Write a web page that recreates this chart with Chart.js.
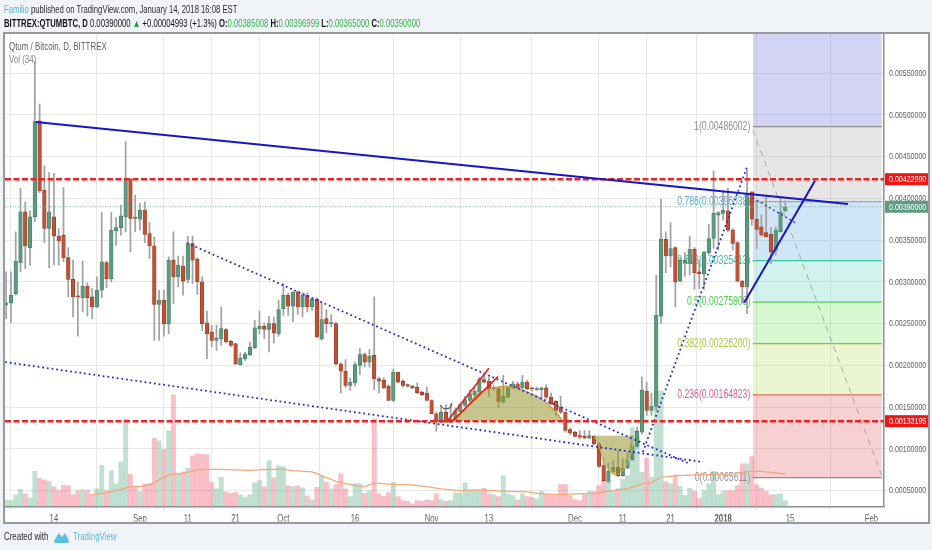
<!DOCTYPE html>
<html><head><meta charset="utf-8">
<style>
html,body{margin:0;padding:0;width:932px;height:550px;overflow:hidden;background:#f0f3f8;}
#frame{position:absolute;left:3px;top:32px;width:923px;height:488px;background:#fff;border:2px solid #9a9a9a;}
canvas{position:absolute;left:0;top:0;}
.t{position:absolute;white-space:nowrap;font-family:"Liberation Sans",sans-serif;font-size:10.7px;color:#2c2c2c;transform:scaleX(.72);transform-origin:left center;}
.g{color:#35b04a}
</style></head><body>
<div id="frame"></div>
<canvas id="c" width="932" height="550"></canvas>
<div class="t" style="left:4px;top:3px"><span style="color:#56b4e0">Familio</span> published on TradingView.com, January 14, 2018 16:08 EST</div>
<div class="t" style="left:4px;top:17px;color:#111"><b>BITTREX:QTUMBTC, D</b> 0.00390000 <span style="color:#2a9a3a">▲</span> +0.00004993 (+1.3%) <b>O:</b><span class="g">0.00385008</span> <b>H:</b><span class="g">0.00396999</span> <b>L:</b><span class="g">0.00365000</span> <b>C:</b><span class="g">0.00390000</span></div>
<div class="t" style="left:9px;top:40px;color:#5e5e5e;font-size:11px">Qtum / Bitcoin, D, BITTREX</div>
<div class="t" style="left:9px;top:53px;color:#8a8a8a;font-size:11px">Vol (34)</div>
<div class="t" style="left:4px;top:530px;color:#2c2c2c;font-size:11px">Created with</div>
<svg style="position:absolute;left:53px;top:530px" width="17" height="14" viewBox="0 0 17 14"><path d="M1 11 L6 3 L9 7 L12 3 L16 11 Q16 13 13 13 L4 13 Q1 13 1 11Z" fill="#5bbfe0"/></svg>
<div class="t" style="left:73px;top:530px;color:#5cb8de;font-size:11px">TradingView</div>
<script src="https://cdn.jsdelivr.net/npm/chart.js@4"></script>
<script>
// Prices are in units of 0.00001 BTC; days are counted from 1 Sep 2017.
const firstDay = -28;
const open  = [272,275,286,323,384,341,378,493,410,364,
378,355,356,329,303,282,281,295,282,270,
290,323,304,361,365,378,423,376,375,386,
358,343,273,278,250,326,306,319,303,346,
327,300,251,240,230,232,243,229,226,201,
208,213,221,244,247,243,250,238,268,284,
271,288,270,284,270,279,232,256,250,250,
202,193,176,179,200,213,204,212,184,182,
175,158,192,181,177,175,174,168,167,158,
142,132,144,132,135,145,152,158,164,168,
183,181,172,172,156,162,173,178,173,180,
172,171,171,173,162,157,150,144,123,120,
116,115,113,115,106,80,61,73,78,68,
77,87,103,120,169,146,151,259,351,331,
341,301,323,322,339,312,310,335,352,380,
382,385,362,347,301,294,408,375,366,359,
357,338,360,385];
const high  = [312,312,360,412,396,385,564,513,439,431,
430,364,413,341,326,300,325,299,292,306,
383,325,383,377,392,468,423,404,394,396,
371,354,290,290,330,360,331,331,355,355,
329,306,265,248,248,270,244,230,226,215,
216,228,254,265,251,259,258,278,298,287,
288,289,287,287,281,281,275,267,261,252,
203,207,185,204,220,215,219,282,186,185,
177,196,192,183,178,176,179,169,174,159,
144,152,153,154,149,155,163,171,173,186,
190,186,176,174,188,174,181,180,188,182,
174,174,174,177,167,158,163,144,125,121,
122,122,122,116,108,89,83,86,98,88,
96,107,126,186,180,167,308,399,360,371,
342,329,335,355,341,326,336,369,433,384,
408,412,364,348,302,434,408,398,380,402,
365,366,401,397];
const low   = [256,251,284,312,316,320,372,407,347,317,
320,320,324,282,258,235,264,259,256,269,
281,293,300,344,356,360,336,360,362,347,
328,230,230,235,238,274,294,284,299,298,
285,242,208,222,218,224,227,222,201,200,
206,212,220,238,232,216,227,235,260,260,
252,261,258,264,266,233,230,239,246,200,
167,174,170,175,189,198,198,171,167,172,
158,157,179,174,174,172,166,164,158,142,
121,131,131,131,134,144,151,157,163,166,
179,163,170,150,155,161,172,172,172,171,
169,170,160,160,153,140,142,120,117,114,
112,112,112,105,78,61,60,72,67,67,
76,86,102,118,140,140,146,250,311,318,
270,300,307,308,291,292,291,332,340,338,
374,360,338,300,275,262,368,340,355,354,
322,332,360,384];
const close = [275,284,325,384,343,378,492,409,364,384,
355,349,329,303,282,281,295,281,270,290,
324,304,362,365,379,423,376,375,386,357,
343,273,278,250,326,306,320,301,346,326,
300,250,238,230,233,244,228,224,202,209,
214,222,245,247,243,250,239,267,284,271,
288,270,284,270,279,234,255,250,251,202,
193,176,180,201,213,204,211,184,181,173,
158,192,180,176,175,173,167,165,158,142,
132,144,132,136,146,153,159,166,169,184,
180,172,174,157,163,173,178,173,180,172,
171,172,173,162,154,146,144,122,119,115,
114,113,116,106,79,62,73,78,68,77,
87,104,121,170,146,151,260,351,331,340,
300,326,326,339,311,310,336,352,382,383,
386,362,346,301,294,405,375,363,356,354,
336,362,384,390];
const volume = [67,60,117,173,127,87,353,283,267,253,200,157,213,207,117,157,167,163,123,177,413,160,360,227,447,880,323,200,150,227,227,683,657,573,757,1117,333,347,383,507,527,523,520,240,177,293,147,133,143,117,90,120,237,260,200,460,287,407,400,207,200,207,187,107,67,193,303,243,177,220,327,177,100,233,227,133,160,877,127,103,137,243,100,60,53,27,60,53,67,60,127,67,53,60,137,133,237,160,160,160,183,127,117,100,310,127,110,67,127,100,93,77,153,127,110,110,220,220,110,70,60,120,153,153,210,267,253,153,177,273,307,787,707,343,483,293,1157,1157,250,227,317,203,110,183,153,80,160,227,353,120,153,160,160,210,427,427,500,220,183,153,117,120,127,60];
const volMaDays = [-10,-8,-6,-4,-2,0,2,4,6,9,12,14,17,20,23,27,30,32,36,38,41,45,47,49,53,56,60,63,67,70,74,77,81,84,88,91,95,98,100,102,105,107,109,112,116,120,124,127,130,132,135];
const volMa = [117,133,150,173,200,200,217,267,317,333,367,373,373,367,363,373,373,360,347,310,253,210,200,237,220,220,200,177,160,167,160,153,147,127,120,127,133,153,170,177,227,243,293,307,317,320,327,353,353,343,327];
const tickDays = [-18,0,10,20,30,45,61,73,91,101,111,122,136,153];
const tickLabels = ["14","Sep","11","21","Oct","16","Nov","13","Dec","11","21","2018","15","Feb"];
const priceTicks = [50,100,150,200,250,300,350,400,450,500,550];
const fibStart = 128.2, fibEnd = 155.2, axisTop = 596.9, axisBottom = 30.9;
const fibRatios = ["1","0.786","0.618","0.5","0.382","0.236","0"];
const fibLevels = [486.002,396.038,325.413,275.806,226.200,164.823,65.611];
const fibLineColors = ["#8c8c8c","#7db0d0","#35c49c","#5cc85c","#8fbf3c","#e07050","#8c8c8c"];
const fibTextColors = ["#8e8e8e","#62a8d0","#35c49c","#4fcc4f","#b0c644","#d8648a","#969696"];
const fibFills = ["rgba(120,120,225,.33)","rgba(150,150,150,.24)","rgba(110,175,225,.32)","rgba(90,210,190,.28)","rgba(110,225,90,.28)","rgba(180,220,90,.28)","rgba(225,90,90,.28)"];
const resistance = 422.990, support = 133.195, lastPrice = 390;
const trendMain = [[-21.8,491.5],[148.1,393.3]];
const trendUp = [[126.4,275],[141.2,421.2]];
const dotUpper = [[9.8,346.6],[114.6,83.1]];
const dotLower = [[-28.24,204],[117.8,84.3]];
const dotSteep = [[105.2,96.3],[127,437.6]];
const dotShort = [[128.2,400.5],[137.2,370.5]];
const fibDiagonal = [[128.2,482],[155.2,67.9]];
const redA = [[64.2,132.6],[73,196.5]];
const redB = [[65.2,132.6],[74.9,186.5]];
const squiggle = [[62.8,152.6],[63.6,147.8],[64.9,149],[65.3,155]];
const domeTop = [[65.5,132.6],[67.6,144.6],[70.4,164.5],[73.8,172.9],[77.4,174.5],[80.9,168.5],[84.3,158.6],[87.2,143],[88.5,132.6]];
const domeBottom = [[95,115.8],[96.1,102.6],[96.9,86.7],[98.3,72.7],[99.7,68.7],[101.1,74.7],[102.2,86.7],[102.9,98.7],[103.3,115.8]];

const pts = a => a.map(p => ({x:p[0], y:p[1]}));
const sans = '"Liberation Sans",sans-serif';
const squeeze = .72;
const days = open.map((_, i) => firstDay + i);
const up = i => close[i] >= open[i];
const line = (data, color, width, order, extra) => Object.assign({type:'line', data:pts(data), borderColor:color, borderWidth:width, pointRadius:0, order, yAxisID:'y', tension:0, fill:false}, extra||{});

const datasets = [];
fibLevels.forEach((lv, i) => {
  const upper = i === 0 ? axisTop : fibLevels[i-1];
  datasets.push(line([[fibStart,upper],[fibEnd,upper]], 'rgba(0,0,0,0)', 0, 90, {fill:{value:lv}, backgroundColor:fibFills[i]}));
  datasets.push(line([[fibStart,lv],[fibEnd,lv]], fibLineColors[i], 1.2, 80));
});
datasets.push({type:'bar', yAxisID:'yv', order:70, grouped:false, barThickness:4.3,
  data:volume.map((v,i)=>({x:days[i], y:v})),
  backgroundColor:volume.map((_,i)=>up(i)?'rgba(90,175,135,.38)':'rgba(240,90,115,.38)')});
datasets.push(Object.assign(line(volMaDays.map((d,i)=>[d,volMa[i]]), '#f2a878', 1.2, 65), {yAxisID:'yv'}));
datasets.push({type:'bar', yAxisID:'y', order:50, grouped:false, barThickness:1.1,
  data:high.map((h,i)=>({x:days[i], y:[low[i],h]})), backgroundColor:'#a3a3a3'});
datasets.push({type:'bar', yAxisID:'y', order:40, grouped:false, barThickness:3.6,
  data:open.map((o,i)=>({x:days[i], y:[o,Math.abs(close[i]-o)<1.2?o+1.2:close[i]]})),
  backgroundColor:open.map((_,i)=>up(i)?'#5c9a7d':'#bd5238'),
  borderColor:open.map((_,i)=>up(i)?'#3f7a60':'#93361f'), borderWidth:0.6, borderSkipped:false});
datasets.push(line(domeTop,'#c89a3c',1.2,30,{fill:{value:support}, backgroundColor:'rgba(150,150,45,.55)', tension:.3}));
datasets.push(line(domeBottom,'#c8b060',1,30,{fill:{value:115.8}, backgroundColor:'rgba(150,150,45,.55)', tension:.25}));
datasets.push(line(squiggle,'#444',1,25));
const xMin = -28.24, xMax = 155.65;
datasets.push(line([[xMin,lastPrice],[xMax,lastPrice]],'#7fb59b',1,22,{borderDash:[1,1.5]}));
datasets.push(line([[xMin,resistance],[xMax,resistance]],'#ee2222',2.4,10,{borderDash:[6,2.5]}));
datasets.push(line([[xMin,support],[xMax,support]],'#ee2222',2.4,10,{borderDash:[6,2.5]}));
datasets.push(line(fibDiagonal,'#a8a8a8',1,20,{borderDash:[6,5]}));
datasets.push(line(dotUpper,'#2a2ad0',1.8,15,{borderDash:[1.8,2.9]}));
datasets.push(line(dotLower,'#2a2ad0',1.8,15,{borderDash:[1.8,2.9]}));
datasets.push(line(dotSteep,'#2a2ad0',1.8,15,{borderDash:[1.8,2.9]}));
datasets.push(line(dotShort,'#2a2ad0',1.4,15,{borderDash:[1.8,2.9]}));
datasets.push(line(redA,'#ee1c1c',1.6,12));
datasets.push(line(redB,'#ee1c1c',1.6,12));
datasets.push(line(trendMain,'#1616c4',2,5));
datasets.push(line(trendUp,'#1616c4',2,5));

const overlay = {
  id:'overlay',
  beforeDatasetsDraw(ch){
    const c = ch.ctx, x = ch.scales.x, y = ch.scales.y;
    c.save(); c.font = '12px '+sans; c.textAlign='right'; c.textBaseline='middle';
    fibLevels.forEach((lv,i)=>{
      c.fillStyle = fibTextColors[i];
      c.fillText(fibRatios[i]+'('+(lv/1e5).toFixed(8)+')', x.getPixelForValue(fibStart)-2.5, y.getPixelForValue(lv));
    });
    c.restore();
  },
  afterDraw(ch){
    const c = ch.ctx, y = ch.scales.y, a = ch.chartArea;
    c.save(); c.font = '9.8px '+sans; c.textAlign='left'; c.textBaseline='middle';
    [[resistance,'#f01515'],[lastPrice,'#5f9b80'],[support,'#f01515']].forEach(([v,col])=>{
      const py = y.getPixelForValue(v);
      c.fillStyle = col; c.fillRect(a.right+1, py-6, 43, 12);
      c.fillStyle = '#fff'; c.fillText((v/1e5).toFixed(8), a.right+5, py+.5);
    });
    c.restore();
  }
};

const canvas = document.getElementById('c');
const ctx2d = canvas.getContext('2d');
const rawFillText = ctx2d.fillText.bind(ctx2d);
ctx2d.fillText = function(t, x, y){
  ctx2d.save(); ctx2d.translate(x, y); ctx2d.scale(squeeze, 1); rawFillText(t, 0, 0); ctx2d.restore();
};

new Chart(canvas, {
  data:{datasets},
  plugins:[overlay],
  options:{
    responsive:false, animation:false, devicePixelRatio:1,
    layout:{padding:{left:5,top:34,right:4,bottom:28.4}},
    plugins:{legend:{display:false},tooltip:{enabled:false}},
    scales:{
      x:{type:'linear',position:'bottom',min:xMin,max:xMax,offset:false,
        afterBuildTicks:s=>{s.ticks=tickDays.map(v=>({value:v}));},
        afterFit:s=>{s.height=15;},
        grid:{color:'#e8e8e8',tickLength:4,drawTicks:true},
        border:{color:'#8f8f8f',width:1.5},
        ticks:{autoSkip:false,maxRotation:0,padding:2,color:'#5e5e5e',
          font:ctx=>({family:sans,size:10.8,weight:tickLabels[tickDays.indexOf(ctx.tick&&ctx.tick.value)]==='2018'?'bold':'normal'}),
          callback:v=>tickLabels[tickDays.indexOf(v)]}},
      y:{type:'linear',position:'right',min:axisBottom,max:axisTop,
        afterBuildTicks:s=>{s.ticks=priceTicks.map(v=>({value:v}));},
        afterFit:s=>{s.width=44;},
        grid:{color:'#e8e8e8',tickLength:3},
        border:{color:'#8f8f8f',width:1.5},
        ticks:{padding:2,color:'#5e5e5e',font:{family:sans,size:9.8},callback:v=>(v/1e5).toFixed(8)}},
      yv:{type:'linear',display:false,min:0,max:4726}
    }
  }
});
</script>
</body></html>
